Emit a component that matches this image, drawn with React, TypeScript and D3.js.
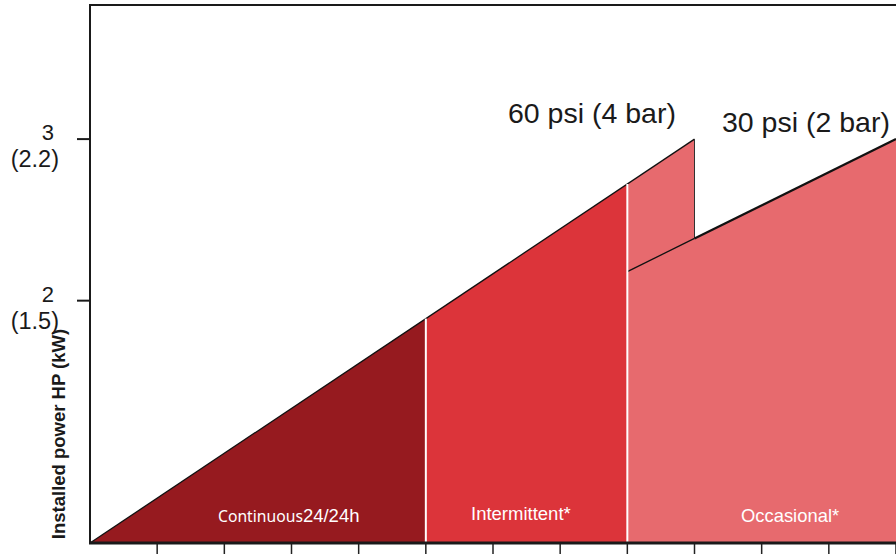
import React, { useEffect, useRef } from 'react';
import * as d3 from 'd3';

// x: arbitrary duty units (12 ticks), y: installed power HP
const X_DOMAIN = [0, 12];
const Y_DOMAIN = [0.5, 3.83];
const X_TICKS = [1, 2, 3, 4, 5, 6, 7, 8, 9, 10, 11, 12];
const Y_TICKS = [3, 2];
const Y_TICK_SUB = ['(2.2)', '(1.5)'];

// pressure curves
const LINE_60 = [
  { x: 0, y: 0.5 },
  { x: 9, y: 3 },
];
const LINE_30 = [
  { x: 8, y: 2.18 },
  { x: 12, y: 3 },
];

const ZONES = [
  { name: 'Continuous', from: 0, to: 5, color: '#961a1f' },
  { name: 'Intermittent*', from: 5, to: 8, color: '#dc343a' },
  { name: 'Occasional*', from: 8, to: 12, color: '#e76a6e' },
];

const W = 896;
const H = 554;

const App: React.FC = () => {
  const svgRef = useRef<SVGSVGElement>(null);

  useEffect(() => {
    if (!svgRef.current) return;
    const svg = d3.select(svgRef.current);
    svg.selectAll('*').remove();

    const left = 90;
    const right = 896;
    const top = 5;
    const bottom = 543;

    const x = d3.scaleLinear().domain(X_DOMAIN).range([left, right]);
    const y = d3.scaleLinear().domain(Y_DOMAIN).range([bottom, top]);

    const f60 = d3.scaleLinear().domain([LINE_60[0].x, LINE_60[1].x]).range([LINE_60[0].y, LINE_60[1].y]);
    const f30 = d3.scaleLinear().domain([LINE_30[0].x, LINE_30[1].x]).range([LINE_30[0].y, LINE_30[1].y]);

    const area = d3
      .area<{ x: number; y: number }>()
      .x((d) => x(d.x))
      .y0(bottom)
      .y1((d) => y(d.y));

    const line = d3
      .line<{ x: number; y: number }>()
      .x((d) => x(d.x))
      .y((d) => y(d.y));

    // continuous + intermittent under the 60 psi line
    ZONES.slice(0, 2).forEach((z) => {
      svg
        .append('path')
        .attr('d', area([{ x: z.from, y: f60(z.from) }, { x: z.to, y: f60(z.to) }])!)
        .attr('fill', z.color);
    });

    // occasional: 60 psi tail then 30 psi line
    const occ = ZONES[2];
    const pts: [number, number][] = [
      [x(occ.from), bottom],
      [x(occ.from), y(f60(occ.from))],
      [x(LINE_60[1].x), y(LINE_60[1].y)],
      [x(LINE_60[1].x), y(f30(LINE_60[1].x))],
      [x(LINE_30[1].x), y(LINE_30[1].y)],
      [x(occ.to), bottom],
    ];
    svg
      .append('path')
      .attr('d', 'M' + pts.map((p) => p.join(',')).join('L') + 'Z')
      .attr('fill', occ.color);

    // outlines
    svg
      .append('path')
      .attr('d', line(LINE_60)!)
      .attr('stroke', '#111')
      .attr('stroke-width', 1.3)
      .attr('fill', 'none');
    svg
      .append('line')
      .attr('x1', x(LINE_60[1].x))
      .attr('x2', x(LINE_60[1].x))
      .attr('y1', y(LINE_60[1].y))
      .attr('y2', y(f30(LINE_60[1].x)))
      .attr('stroke', '#333')
      .attr('stroke-width', 1);
    svg
      .append('path')
      .attr('d', line([LINE_30[0], { x: LINE_60[1].x, y: f30(LINE_60[1].x) }])!)
      .attr('stroke', '#111')
      .attr('stroke-width', 1.3)
      .attr('fill', 'none');
    svg
      .append('path')
      .attr('d', line([{ x: LINE_60[1].x, y: f30(LINE_60[1].x) }, LINE_30[1]])!)
      .attr('stroke', '#111')
      .attr('stroke-width', 2.2)
      .attr('fill', 'none');

    // white zone separators
    [ZONES[0].to, ZONES[1].to].forEach((v) => {
      svg
        .append('line')
        .attr('x1', x(v))
        .attr('x2', x(v))
        .attr('y1', y(f60(v)))
        .attr('y2', bottom)
        .attr('stroke', '#fff')
        .attr('stroke-width', 2);
    });

    // frame
    svg
      .append('line')
      .attr('x1', left - 1)
      .attr('x2', right)
      .attr('y1', top)
      .attr('y2', top)
      .attr('stroke', '#1a1a1a')
      .attr('stroke-width', 2);
    svg
      .append('line')
      .attr('x1', left)
      .attr('x2', left)
      .attr('y1', top - 1)
      .attr('y2', bottom)
      .attr('stroke', '#1a1a1a')
      .attr('stroke-width', 2);

    // x ticks
    X_TICKS.forEach((t) => {
      svg
        .append('line')
        .attr('x1', x(t))
        .attr('x2', x(t))
        .attr('y1', bottom)
        .attr('y2', H)
        .attr('stroke', '#222')
        .attr('stroke-width', 1.5);
    });
    svg
      .append('line')
      .attr('x1', left - 1)
      .attr('x2', right)
      .attr('y1', bottom)
      .attr('y2', bottom)
      .attr('stroke', '#1a1a1a')
      .attr('stroke-width', 3);

    // y ticks + labels
    Y_TICKS.forEach((t, i) => {
      const yy = y(t);
      svg
        .append('line')
        .attr('x1', left - 13)
        .attr('x2', left)
        .attr('y1', yy)
        .attr('y2', yy)
        .attr('stroke', '#1a1a1a')
        .attr('stroke-width', 2);
      svg
        .append('text')
        .attr('x', 54)
        .attr('y', yy + 1)
        .attr('text-anchor', 'end')
        .attr('font-family', 'Liberation Sans, Arial, sans-serif')
        .attr('font-size', 22)
        .attr('fill', '#1a1a1a')
        .text(String(t));
      svg
        .append('text')
        .attr('x', 59)
        .attr('y', yy + 28)
        .attr('text-anchor', 'end')
        .attr('font-family', 'Liberation Sans, Arial, sans-serif')
        .attr('font-size', 23.5)
        .attr('fill', '#1a1a1a')
        .text(Y_TICK_SUB[i]);
    });

    // y axis title
    svg
      .append('text')
      .attr('transform', `translate(65, ${(540 + 328) / 2}) rotate(-90)`)
      .attr('text-anchor', 'middle')
      .attr('font-family', 'Liberation Sans, Arial, sans-serif')
      .attr('font-weight', 'bold')
      .attr('font-size', 18.5)
      .attr('fill', '#1a1a1a')
      .text('Installed power HP (kW)');

    // curve labels
    svg
      .append('text')
      .attr('x', 508)
      .attr('y', 123)
      .attr('font-family', 'Liberation Sans, Arial, sans-serif')
      .attr('font-size', 28.5)
      .attr('fill', '#1a1a1a')
      .text('60 psi (4 bar)');
    svg
      .append('text')
      .attr('x', 722)
      .attr('y', 132)
      .attr('font-family', 'Liberation Sans, Arial, sans-serif')
      .attr('font-size', 28.5)
      .attr('fill', '#1a1a1a')
      .text('30 psi (2 bar)');

    // zone labels
    const cont = svg
      .append('text')
      .attr('x', 218)
      .attr('y', 522)
      .attr('fill', '#fff');
    cont
      .append('tspan')
      .attr('font-family', 'Noto Sans, sans-serif')
      .attr('font-size', 15.7)
      .text('Continuous');
    cont
      .append('tspan')
      .attr('font-family', 'Liberation Sans, Arial, sans-serif')
      .attr('font-size', 18.5)
      .text('24/24h');

    svg
      .append('text')
      .attr('x', 471)
      .attr('y', 520)
      .attr('font-family', 'Liberation Sans, Arial, sans-serif')
      .attr('font-size', 18.5)
      .attr('fill', '#fff')
      .text(ZONES[1].name);
    svg
      .append('text')
      .attr('x', 741)
      .attr('y', 522)
      .attr('font-family', 'Liberation Sans, Arial, sans-serif')
      .attr('font-size', 18.4)
      .attr('fill', '#fff')
      .text(ZONES[2].name);
  }, []);

  return (
    <svg
      ref={svgRef}
      width={W}
      height={H}
      style={{ position: 'absolute', left: 0, top: 0, background: '#fff' }}
    />
  );
};

export default App;
